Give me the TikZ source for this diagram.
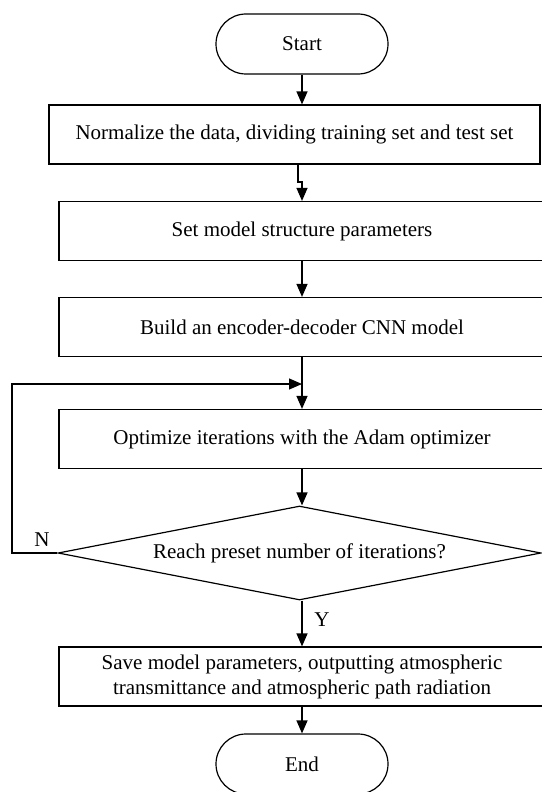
\documentclass[tikz,border=0pt]{standalone}
\usepackage{fontspec}
\setmainfont{Liberation Serif}
\usepackage{tikz}
\usetikzlibrary{positioning, arrows.meta, shapes.geometric}

\tikzset{
  flowbox/.style={draw, line width=1.2pt, minimum height=59pt, inner sep=0pt},
  termbox/.style={draw, line width=1.2pt, rounded corners=30pt, minimum width=172pt, minimum height=60pt},
  decbox/.style={draw, shape=diamond, line width=1.2pt, inner sep=0pt, aspect=5.1, minimum width=483pt, minimum height=94pt},
  arr/.style={line width=1.2pt, -{Triangle[length=13pt, width=11pt]}},
  txt/.style={font=\fontsize{21}{25}\selectfont}
}

\begin{document}
\begin{tikzpicture}[x=1pt, y=-1pt, every node/.style={txt}]

%--- Page frame
\useasboundingbox (0,0) rectangle (541,792);

%--- Terminals
\node[termbox] (start) at (302,44) {Start};
\node[termbox] (end)   at (302,764) {End};

%--- Process boxes
\node[flowbox, minimum width=491pt] (norm)  at (294.5,134.5) {Normalize the data, dividing training set and test set};
\node[flowbox, minimum width=486pt] (set)   at (302,231) {Set model structure parameters};
\node[flowbox, minimum width=486pt] (build) at (302,327) {Build an encoder-decoder CNN model};
\node[flowbox, minimum width=486pt] (opt)   at (302,439) {Optimize iterations with the Adam optimizer};

%--- Decision
\node[decbox] (reach) at (299.5,553) {Reach preset number of iterations?};

%--- Output box
\node[flowbox, minimum width=486pt, align=center] (save) at (302,676.5)
  {Save model parameters, outputting atmospheric\\transmittance and atmospheric path radiation};

%--- Helper points
\coordinate (jog)  at (298,182);
\coordinate (loop) at (302,384);
\coordinate (back) at (12,384);

%--- Connectors
\draw[arr] (start.south) -- (norm.north -| start.south);
\draw[arr] (jog |- norm.south) -- (jog) -| (set.north);
\draw[arr] (set.south) -- (build.north);
\draw[arr] (build.south) -- (opt.north);
\draw[arr] (opt.south) -- (reach.north -| opt.south);
\draw[arr] (reach.west) -| (back) -- (loop);
\draw[arr] (reach.south -| save.north) -- (save.north);
\draw[arr] (save.south) -- (end.north);

%--- Branch labels
\node (nlab) at (42,540) {N};
\node (ylab) at (322,620) {Y};

\end{tikzpicture}
\end{document}
